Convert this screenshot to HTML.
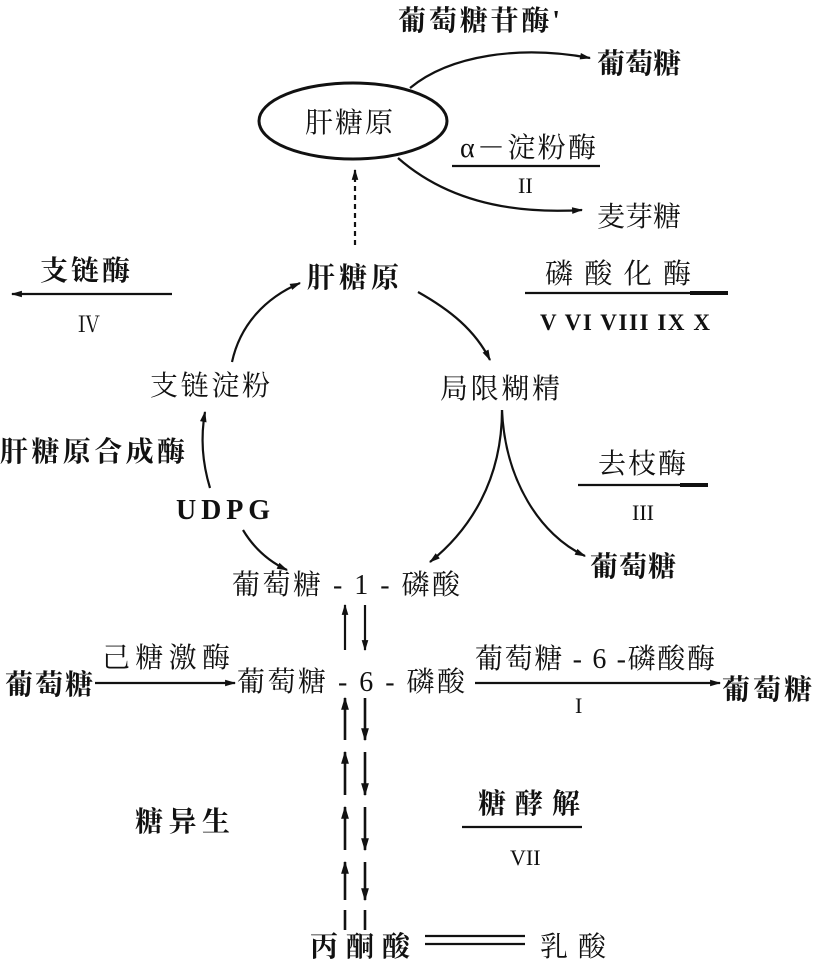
<!DOCTYPE html>
<html><head><meta charset="utf-8"><style>
html,body{margin:0;padding:0;background:#fff}
svg text{font-family:"Liberation Serif","Noto Serif CJK SC","Noto Sans CJK SC",serif;font-size:28px;fill:#111;font-weight:bold}
</style></head><body>
<svg width="815" height="963" viewBox="0 0 815 963" xmlns="http://www.w3.org/2000/svg">
<defs>
<marker id="a" viewBox="0 0 10 10" refX="9" refY="5" markerWidth="7" markerHeight="5" orient="auto-start-reverse"><path d="M0,2 L10,5 L0,8 z" fill="#111"/></marker>
</defs>
<g stroke="#111" fill="none" stroke-width="2.2">
<ellipse cx="353" cy="121" rx="94" ry="38" stroke-width="3"/>
<path d="M410,88 C450,55 520,45 590,58" marker-end="url(#a)"/>
<path d="M398,158 C440,195 500,215 582,210" marker-end="url(#a)"/>
<line x1="452" y1="166" x2="600" y2="166"/>
<line x1="355" y1="245" x2="355" y2="170" stroke-dasharray="5,4" marker-end="url(#a)"/>
<line x1="172" y1="294" x2="12" y2="294" marker-end="url(#a)"/>
<line x1="525" y1="293" x2="728" y2="293"/>
<line x1="690" y1="293" x2="728" y2="293" stroke-width="4"/>
<path d="M232,362 C240,325 265,298 300,283" marker-end="url(#a)"/>
<path d="M418,292 C450,310 475,330 490,360" marker-end="url(#a)"/>
<path d="M210,488 C203,465 200,440 205,412" marker-end="url(#a)"/>
<path d="M243,530 C255,550 270,562 287,570" marker-end="url(#a)"/>
<path d="M502,410 C502,480 470,530 430,562" marker-end="url(#a)"/>
<path d="M502,410 C505,480 540,535 585,556" marker-end="url(#a)"/>
<line x1="578" y1="485" x2="708" y2="485"/>
<line x1="680" y1="485" x2="708" y2="485" stroke-width="4"/>
<line x1="95" y1="683" x2="235" y2="683" marker-end="url(#a)"/>
<line x1="475" y1="683" x2="720" y2="683" marker-end="url(#a)"/>
<line x1="462" y1="827" x2="582" y2="827"/>
<line x1="345" y1="650" x2="345" y2="605" marker-end="url(#a)"/>
<line x1="365" y1="605" x2="365" y2="650" marker-end="url(#a)"/>
<g stroke-width="2.6">
<line x1="345" y1="740" x2="345" y2="698" marker-end="url(#a)"/>
<line x1="365" y1="698" x2="365" y2="740" marker-end="url(#a)"/>
<line x1="345" y1="795" x2="345" y2="752" marker-end="url(#a)"/>
<line x1="365" y1="752" x2="365" y2="795" marker-end="url(#a)"/>
<line x1="345" y1="850" x2="345" y2="807" marker-end="url(#a)"/>
<line x1="365" y1="807" x2="365" y2="850" marker-end="url(#a)"/>
<line x1="345" y1="900" x2="345" y2="862" marker-end="url(#a)"/>
<line x1="365" y1="862" x2="365" y2="900" marker-end="url(#a)"/>
<line x1="345" y1="930" x2="345" y2="910"/>
<line x1="365" y1="910" x2="365" y2="930"/>
</g>
<line x1="425" y1="936" x2="525" y2="936"/>
<line x1="425" y1="944" x2="525" y2="944"/>
</g>
<text x="398" y="30" textLength="162">葡萄糖苷酶'</text>
<text x="597" y="73" textLength="84">葡萄糖</text>
<text x="305" y="132" textLength="88" style="font-weight:normal">肝糖原</text>
<text x="460" y="157" textLength="136" style="font-weight:normal">α－淀粉酶</text>
<text x="518" y="193" style="font-size:22px;font-weight:normal">II</text>
<text x="597" y="226" textLength="84" style="font-weight:normal">麦芽糖</text>
<text x="307" y="287" textLength="92">肝糖原</text>
<text x="40" y="280" textLength="90">支链酶</text>
<text x="78" y="332" style="font-size:22px;font-weight:normal">Ⅳ</text>
<text x="545" y="283" textLength="146" style="font-weight:normal">磷酸化酶</text>
<text x="540" y="330" textLength="170" style="font-size:23px">V  VI  VIII  IX  X</text>
<text x="150" y="395" textLength="120" style="font-weight:normal">支链淀粉</text>
<text x="440" y="398" textLength="120" style="font-weight:normal">局限糊精</text>
<text x="0" y="461" textLength="185">肝糖原合成酶</text>
<text x="176" y="519" textLength="94" style="font-size:28px">UDPG</text>
<text x="598" y="473" textLength="88" style="font-weight:normal">去枝酶</text>
<text x="632" y="520" style="font-size:22px;font-weight:normal">III</text>
<text x="590" y="576" textLength="86">葡萄糖</text>
<text x="232" y="594" textLength="228" style="font-weight:normal">葡萄糖 - 1 - 磷酸</text>
<text x="5" y="694" textLength="88">葡萄糖</text>
<text x="102" y="667" textLength="128" style="font-weight:normal">己糖激酶</text>
<text x="237" y="691" textLength="228" style="font-weight:normal">葡萄糖 - 6 - 磷酸</text>
<text x="475" y="668" textLength="240" style="font-weight:normal">葡萄糖 - 6 -磷酸酶</text>
<text x="575" y="713" style="font-size:22px;font-weight:normal">I</text>
<text x="722" y="699" textLength="90">葡萄糖</text>
<text x="135" y="831" textLength="95">糖异生</text>
<text x="478" y="813" textLength="102">糖酵解</text>
<text x="510" y="865" style="font-size:22px;font-weight:normal">VII</text>
<text x="310" y="956" textLength="100">丙酮酸</text>
<text x="540" y="956" textLength="66" style="font-weight:normal">乳酸</text>
</svg>
</body></html>
